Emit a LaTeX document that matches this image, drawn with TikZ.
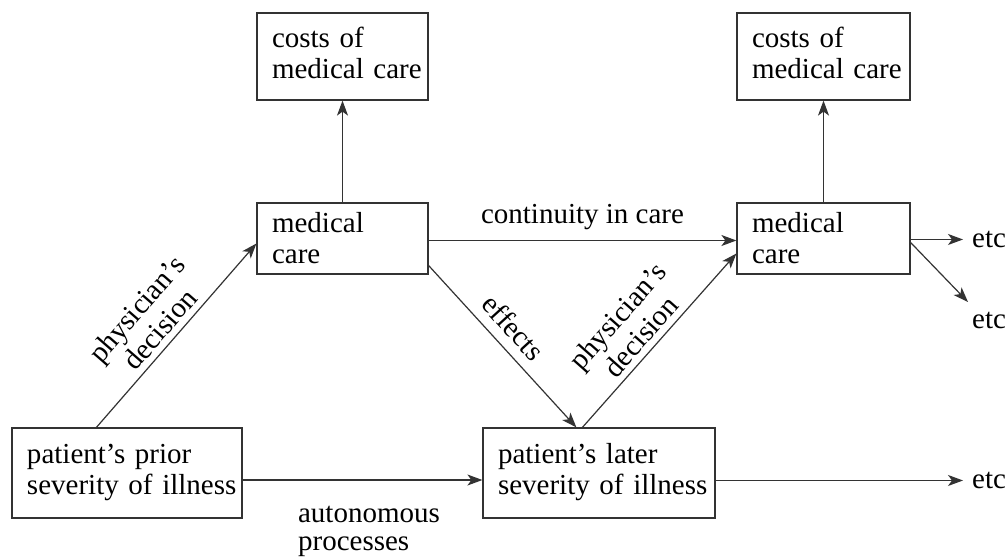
\documentclass[tikz,border=0pt]{standalone}
\usepackage{fontspec}
\setmainfont{Liberation Serif}
\usetikzlibrary{arrows.meta}
% two left-aligned lines set as one unbreakable block;
% the optional argument adds room above the first line
\newcommand\twolines[3][0pt]{\begin{tabular}{@{}l@{}}\rule{0pt}{\dimexpr 21.7pt+#1\relax}#2\\#3\end{tabular}}
\begin{document}
\begin{tikzpicture}[x=1pt,y=-1pt,
  every node/.style={font=\fontsize{29}{31}\selectfont, text=black},
  box/.style={draw=black!80, line width=1.2pt, rectangle, align=left,
              inner xsep=15pt, inner ysep=0pt},
  link/.style={draw=black!80, line width=1.2pt,
               -{Stealth[length=15pt,width=11pt,inset=4pt]}},
  lab/.style={inner sep=2pt},
  etcnode/.style={inner xsep=9pt, inner ysep=0pt, anchor=base west}]
\useasboundingbox[fill=white] (0,0) rectangle (1008,557);

% boxes
\node[box, minimum width=171pt, minimum height=87pt, text width=141pt] (costL) at (342.5,56.5) {\twolines{costs of}{medical care}};
\node[box, minimum width=173pt, minimum height=87pt, text width=143pt] (costR) at (823.5,56.5) {\twolines{costs of}{medical care}};
\node[box, minimum width=171pt, minimum height=71pt, text width=141pt] (medL) at (342.5,238.5) {\twolines[6pt]{medical}{care}};
\node[box, minimum width=173pt, minimum height=71pt, text width=143pt] (medR) at (823.5,238.5) {\twolines[6pt]{medical}{care}};
\node[box, minimum width=230pt, minimum height=90pt, text width=200pt] (prior) at (127,473) {\twolines{patient's prior}{severity of illness}};
\node[box, minimum width=232pt, minimum height=90pt, text width=202pt] (later) at (599,473) {\twolines{patient's later}{severity of illness}};

% open ends on the right
\node[etcnode] (etc1) at (963,247.5) {etc};
\node[inner sep=0pt, anchor=base west] (etc2) at (972,328.5) {etc};
\coordinate (tip2) at (968,302);
\node[etcnode] (etc3) at (963,488.5) {etc};

% connectors
\draw[link] (medL) -- (costL);
\draw[link] (medR) -- (costR);
\draw[link] ([yshift=-2pt]medL.east) -- node[lab, above=8pt] {continuity in care} ([yshift=-2pt]medR.west);
\draw[link] ([xshift=85pt]prior.north west) -- node[lab, pos=0.475, above=4pt, sloped, align=center] {physician's\\decision} ([yshift=-5pt]medL.west);
\draw[link] ([yshift=-27pt]medL.east) -- node[lab, pos=0.47, above=8pt, sloped] {effects} ([xshift=94pt]later.north west);
\draw[link] ([xshift=100pt]later.north west) -- node[lab, pos=0.46, above=4pt, sloped, align=center] {physician's\\decision} ([yshift=-15pt]medR.west);
\draw[link] ([yshift=-7pt]prior.east) -- node[lab, below=24pt, xshift=6.5pt, align=left, font=\fontsize{29}{28}\selectfont] {autonomous\\processes} ([yshift=-7pt]later.west);
\draw[link] (medR.east |- etc1.west) -- (etc1.west);
\draw[link] ([yshift=-4pt]medR.east) -- (tip2);
\draw[link] (later.east |- etc3.west) -- (etc3.west);
\end{tikzpicture}
\end{document}
